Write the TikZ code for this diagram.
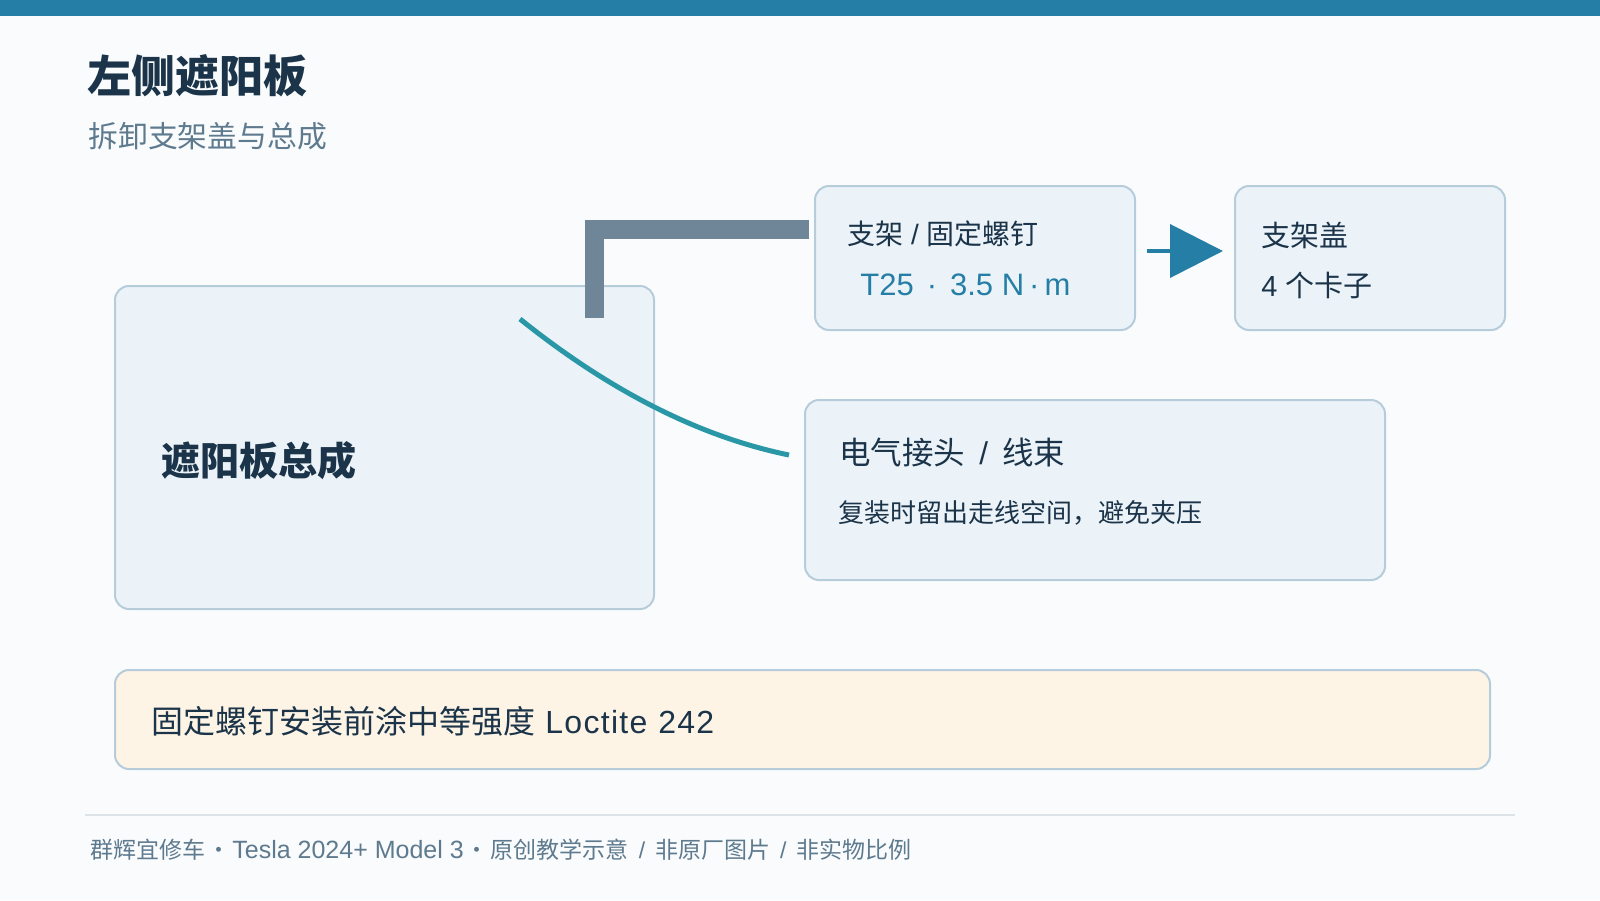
\documentclass[tikz,border=0pt]{standalone}
\usepackage{fontspec}
\setmainfont{Noto Sans CJK SC}
\newfontfamily\latinfont{Liberation Sans}
\newfontfamily\widelatin{Liberation Sans}[LetterSpace=4]
\usetikzlibrary{arrows.meta,calc}
\definecolor{paper}{RGB}{249,251,253}
\definecolor{barblue}{RGB}{37,126,166}
\definecolor{ink}{RGB}{27,52,73}
\definecolor{mute}{RGB}{94,122,142}
\definecolor{boxfill}{RGB}{235,243,248}
\definecolor{boxline}{RGB}{183,204,218}
\definecolor{cream}{RGB}{254,244,230}
\definecolor{steel}{RGB}{111,134,153}
\definecolor{wireteal}{RGB}{42,151,167}
\definecolor{rule}{RGB}{220,228,234}

\begin{document}
\begin{tikzpicture}[x=0.5pt,y=-0.5pt,
  box/.style={draw=boxline,line width=1pt,fill=boxfill,rounded corners=7pt,inner sep=0pt,outer sep=0pt,anchor=north west},
  lbl/.style={anchor=west,inner sep=0pt,text=ink}]
\useasboundingbox (0,0) rectangle (1600,900);
\fill[paper] (0,0) rectangle (1600,900);
\fill[barblue] (0,0) rectangle (1600,16);
% heading
\node[lbl,font=\bfseries\fontsize{22pt}{26pt}\selectfont] (title) at (87,76) {左侧遮阳板};
\node[lbl,text=mute,font=\fontsize{14.9pt}{18pt}\selectfont] (subtitle) at (88,136) {拆卸支架盖与总成};
% boxes
\node[box,minimum width=269.5pt,minimum height=161.5pt] (panel) at (115,286) {};
\node[box,minimum width=160pt,minimum height=72pt] (fix) at (815,186) {};
\node[box,minimum width=135pt,minimum height=72pt] (cover) at (1235,186) {};
\node[box,minimum width=290pt,minimum height=90pt] (wire) at (805,400) {};
\node[box,fill=cream,minimum width=687.5pt,minimum height=49.5pt] (note) at (115,670) {};
% texts
\node[lbl,font=\bfseries\fontsize{19.5pt}{23pt}\selectfont] (panellabel) at ($(panel.north west)+(46,175)$) {遮阳板总成};
\node[lbl,font=\fontsize{14pt}{17pt}\selectfont] (fixtitle) at ($(fix.north west)+(32,48)$) {支架{\latinfont{} / }固定螺钉};
\node[lbl,text=barblue,font=\latinfont\fontsize{15.5pt}{18pt}\selectfont] (fixspec) at ($(fix.north west)+(45,99)$) {T25\hspace{6.5pt}·\hspace{6.5pt}3.5 N\hspace{2.5pt}·\hspace{2.5pt}m};
\node[lbl,font=\fontsize{14.5pt}{17pt}\selectfont] (covertitle) at ($(cover.north west)+(26,49)$) {支架盖};
\node[lbl,font=\fontsize{14.5pt}{17pt}\selectfont] (covernote) at ($(cover.north west)+(26,99)$) {{\latinfont 4 }个卡子};
\node[lbl,font=\fontsize{15.75pt}{18pt}\selectfont] (wiretitle) at ($(wire.north west)+(34,53)$) {电气接头{\latinfont\hspace{7pt}/\hspace{7pt}}线束};
\node[lbl,font=\fontsize{13pt}{16pt}\selectfont] (wirenote) at ($(wire.north west)+(33,113)$) {复装时留出走线空间，避免夹压};
\node[lbl,font=\fontsize{16pt}{19pt}\selectfont] (notetext) at ($(note.west)+(36,1.5)$) {固定螺钉安装前涂中等强度{\widelatin\hspace{5pt}Loctite\hspace{5.5pt}242}};
% connectors
\draw[steel,line width=9.5pt,line join=miter] ($(fix.west)+(-6,-28.5)$) -| ($(panel.north west)+(479.5,32)$);
\draw[wireteal,line width=2.5pt] ($(panel.north west)+(405,33)$) .. controls (611,392) and (701,437) .. ($(wire.west)+(-16,-35)$);
\draw[barblue,line width=2pt,-{Triangle[length=26.5pt,width=26.5pt]}] ($(fix.east)+(12,-7)$) -- ($(cover.west)+(-12,-7)$);
% footer
\coordinate (ruleL) at (85,815);
\coordinate (ruleR) at (1515,815);
\draw[rule,line width=1pt] (ruleL) -- (ruleR);
\node[lbl,text=mute,font=\fontsize{11.5pt}{14pt}\selectfont] (footer) at (90,850) {群辉宜修车\hspace{1pt}·\hspace{1pt}{\latinfont\fontsize{12.5pt}{14pt}\selectfont Tesla 2024+ Model 3}\hspace{1pt}·\hspace{1pt}原创教学示意{\latinfont\hspace{5pt}/\hspace{5pt}}非原厂图片{\latinfont\hspace{5pt}/\hspace{5pt}}非实物比例};
\end{tikzpicture}
\end{document}
